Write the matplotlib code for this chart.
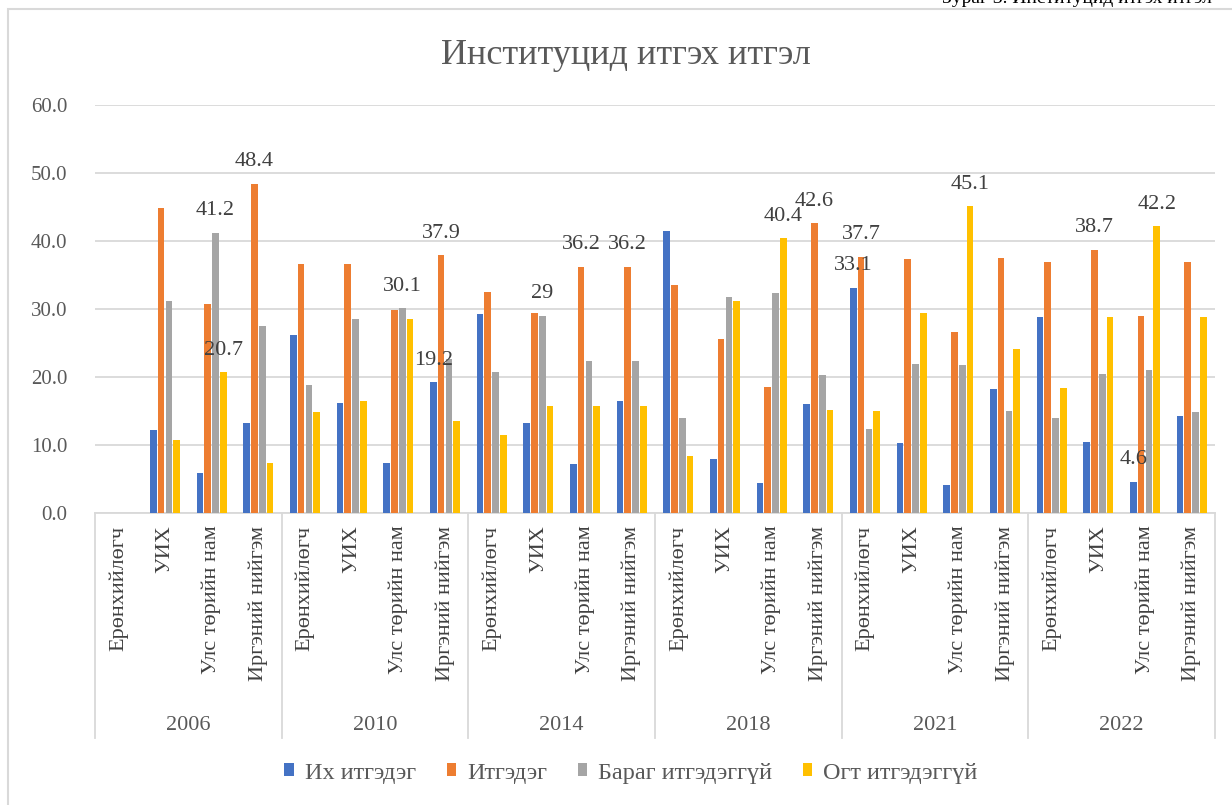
import numpy as np
import matplotlib
matplotlib.use("Agg")
import matplotlib.pyplot as plt
from matplotlib import patches

plt.rcParams['font.family'] = ['Liberation Serif', 'DejaVu Serif']

years = ["2006", "2010", "2014", "2018", "2021", "2022"]
institutions = ["Ерөнхийлөгч", "УИХ", "Улс төрийн нам", "Иргэний нийгэм"]
series_names = ["Их итгэдэг", "Итгэдэг", "Бараг итгэдэггүй", "Огт итгэдэггүй"]
colors = ["#4472c4", "#ed7d31", "#a5a5a5", "#ffc000"]

# values per year, order: institutions
ih_itgedeg = [0, 12.2, 5.9, 13.3,
              26.2, 16.2, 7.3, 19.2,
              29.2, 13.3, 7.2, 16.4,
              41.5, 7.9, 4.4, 16.1,
              33.1, 10.3, 4.1, 18.3,
              28.8, 10.5, 4.6, 14.3]
itgedeg = [0, 44.9, 30.7, 48.4,
           36.6, 36.6, 29.8, 37.9,
           32.5, 29.4, 36.2, 36.2,
           33.5, 25.6, 18.6, 42.6,
           37.7, 37.3, 26.6, 37.5,
           36.9, 38.7, 29.0, 36.9]
barag = [0, 31.2, 41.2, 27.5,
         18.8, 28.5, 30.1, 22.6,
         20.7, 29.0, 22.3, 22.3,
         13.9, 31.8, 32.4, 20.3,
         12.4, 21.9, 21.7, 15.0,
         13.9, 20.5, 21.1, 14.9]
ogt = [0, 10.7, 20.7, 7.3,
       14.9, 16.4, 28.5, 13.5,
       11.5, 15.8, 15.8, 15.8,
       8.4, 31.2, 40.4, 15.2,
       15.0, 29.4, 45.1, 24.1,
       18.4, 28.8, 42.2, 28.8]
series = [ih_itgedeg, itgedeg, barag, ogt]

# data labels shown in the source: (category index, series index, text)
labels = [(2, 2, "41.2"), (2, 3, "20.7"), (3, 1, "48.4"),
          (6, 2, "30.1"), (7, 0, "19.2"), (7, 1, "37.9"),
          (9, 2, "29"), (10, 1, "36.2"), (11, 1, "36.2"),
          (14, 3, "40.4"), (15, 1, "42.6"),
          (16, 0, "33.1"), (16, 1, "37.7"), (18, 3, "45.1"),
          (21, 1, "38.7"), (22, 3, "42.2"), (22, 0, "4.6")]

txt = "#595959"
grid = "#d9d9d9"

fig = plt.figure(figsize=(12.32, 8.05), dpi=100)
ax = fig.add_axes([95 / 1232, 1 - 513 / 805, 1120 / 1232, 408 / 805])

n = len(ih_itgedeg)
x = np.arange(n)
step = 0.167
for i, (vals, col, name) in enumerate(zip(series, colors, series_names)):
    ax.bar(x + (i - 1.5) * step, vals, width=step * 0.86, color=col,
           label=name, zorder=3)

for ci, si, t in labels:
    ax.annotate(t, (ci + (si - 1.5) * step, series[si][ci]),
                xytext=(0, 9), textcoords="offset points",
                ha="center", va="bottom", fontsize=16, color="#404040",
                zorder=5)

ax.set_xlim(-0.5, n - 0.5)
ax.set_ylim(0, 60)
ax.set_yticks(np.arange(0, 61, 10))
ax.set_yticklabels([f"{v:.1f}" for v in np.arange(0, 61, 10)])
ax.yaxis.grid(True, color=grid, lw=1.3, zorder=0)
ax.tick_params(axis="y", length=0, pad=20, labelsize=15, labelcolor=txt)
for s in ("left", "right", "top"):
    ax.spines[s].set_visible(False)
ax.spines["bottom"].set_color(grid)
ax.spines["bottom"].set_linewidth(1.3)

ax.set_xticks(x)
ax.set_xticklabels(institutions * len(years), rotation=90, va="top",
                   ha="center", fontsize=16, color="#404040")
ax.tick_params(axis="x", length=0, pad=9)

# group separators and year labels
trans = ax.get_xaxis_transform()
ybot = -225 / 408
for g in range(len(years) + 1):
    ax.plot([g * 4 - 0.5] * 2, [0, ybot], transform=trans, color=grid,
            lw=1.3, clip_on=False)
for g, yr in enumerate(years):
    ax.text(g * 4 + 1.5, -212 / 408, yr, transform=trans, ha="center",
            va="center", fontsize=16, color=txt)

fig.text(626 / 1232, 1 - 55 / 805, "Институцид итгэх итгэл", ha="center",
         va="center", fontsize=26, color=txt)

fig.legend(loc="center", bbox_to_anchor=(631 / 1232, 1 - 773 / 805),
           ncol=4, frameon=False, fontsize=17.5, handlelength=0.4,
           handleheight=0.45, handletextpad=0.45, columnspacing=1.25,
           labelcolor=txt)

# chart border and clipped caption above it
fig.patches.append(patches.Rectangle((8 / 1232, -0.05), 1.1, 1.05 - 9 / 805,
                                     transform=fig.transFigure, fill=False,
                                     edgecolor=grid, lw=1.5))
fig.text(1212 / 1232, 1 - 3 / 805, "Зураг 3. Институцид итгэх итгэл",
         ha="right", va="baseline", fontsize=14, color="black")

fig.savefig("out.png", dpi=100)
